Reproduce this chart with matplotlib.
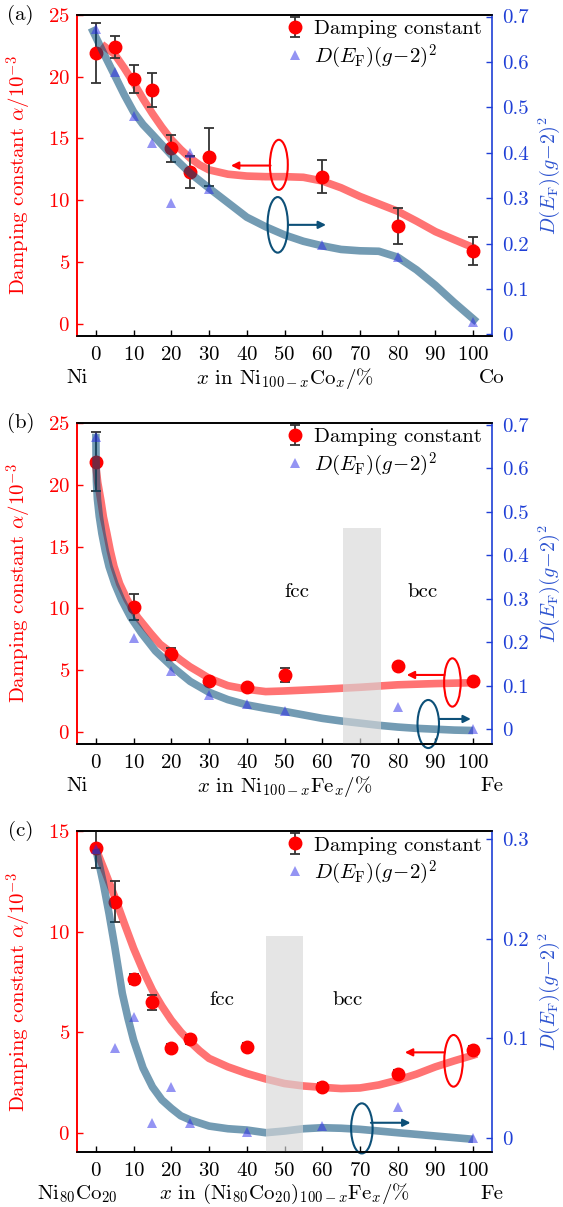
import matplotlib
matplotlib.use('Agg')
import matplotlib.pyplot as plt
from matplotlib.patches import Ellipse, Rectangle
from matplotlib.ticker import FuncFormatter

plt.rcParams.update({
    'font.family': 'serif',
    'font.serif': ['cmr10'],
    'mathtext.fontset': 'cm',
    'axes.unicode_minus': False,
    'axes.formatter.use_mathtext': True,
    'font.size': 15,
})

RED = '#ff0000'
BLUE = '#1f3fd6'
CURVE_BLUE = '#004a75'
DARK_BLUE = '#0d5078'

# ---- panel (a): Ni(100-x)Co(x)
a_x = [0, 5, 10, 15, 20, 25, 30, 60, 80, 100]
a_alpha = [21.9, 22.4, 19.8, 18.9, 14.2, 12.3, 13.5, 11.9, 7.9, 5.9]
a_err = [2.4, 0.9, 1.1, 1.4, 1.1, 1.3, 2.35, 1.35, 1.45, 1.15]
a_D = [0.672, 0.577, 0.48, 0.421, 0.29, 0.40, 0.32, 0.197, 0.17, 0.028]
a_fit_alpha_x = [1.6, 5, 7.5, 10, 12.5, 15, 17.5, 20, 22.5, 25, 27.5, 30, 35, 40, 45, 50, 55, 60,
                 65, 70, 75, 80, 85, 90, 95, 100.5]
a_fit_alpha_y = [22.6, 21.8, 20.7, 19.5, 18.2, 17.0, 15.9, 14.9, 14.1, 13.4, 12.85, 12.45, 12.1,
                 11.95, 11.9, 11.9, 11.85, 11.55, 11.0, 10.3, 9.7, 9.1, 8.3, 7.45, 6.8, 6.1]
a_fit_D_x = [-1.2, 2, 5, 7.5, 10, 12.5, 15, 20, 25, 30, 35, 40, 45, 50, 55, 60, 65, 70, 75, 80,
             85, 90, 95, 101]
a_fit_D_y = [0.675, 0.62, 0.57, 0.528, 0.49, 0.462, 0.44, 0.395, 0.355, 0.322, 0.29, 0.258, 0.237,
             0.219, 0.205, 0.195, 0.187, 0.184, 0.183, 0.17, 0.142, 0.108, 0.07, 0.027]

# ---- panel (b): Ni(100-x)Fe(x)
b_x = [0, 10, 20, 30, 40, 50, 80, 100]
b_alpha = [21.9, 10.1, 6.3, 4.1, 3.6, 4.6, 5.35, 4.1]
b_err = [2.4, 1.05, 0.45, 0.2, 0.2, 0.55, 0.2, 0.2]
b_D = [0.672, 0.21, 0.135, 0.079, 0.058, 0.043, 0.051, 0.0]
b_fit_alpha_x = [0, 0.5, 1.3, 2.0, 2.9, 3.8, 4.8, 6.3, 8.3, 11, 14.5, 17, 20, 22.5, 24.9, 27.5,
                 30, 35, 40, 45, 50, 60, 70, 80, 90, 100]
b_fit_alpha_y = [21.5, 20.2, 18.8, 17.4, 16.1, 14.7, 13.4, 12.0, 10.7, 9.3, 7.98, 7.1, 6.4, 5.8,
                 5.27, 4.8, 4.33, 3.73, 3.44, 3.25, 3.3, 3.44, 3.6, 3.8, 3.9, 3.97]
b_fit_D_x = [0, 0.05, 0.15, 0.4, 0.9, 1.6, 2.5, 3.5, 5, 6.8, 9.2, 12.1, 15.8, 20.2, 25, 30, 35,
             40, 45, 50, 55, 60, 65, 70, 75, 80, 85, 90, 95, 100]
b_fit_D_y = [0.68, 0.62, 0.57, 0.53, 0.49, 0.45, 0.41, 0.374, 0.335, 0.298, 0.258, 0.221, 0.18,
             0.144, 0.11, 0.085, 0.068, 0.056, 0.048, 0.041, 0.033, 0.025, 0.019, 0.014, 0.009,
             0.005, 0.002, 0.0, -0.002, -0.003]

# ---- panel (c): (Ni80Co20)(100-x)Fe(x)
c_x = [0, 5, 10, 15, 20, 25, 40, 60, 80, 100]
c_alpha = [14.15, 11.5, 7.67, 6.48, 4.24, 4.64, 4.27, 2.26, 2.92, 4.11]
c_err = [1.0, 1.0, 0.25, 0.36, 0.2, 0.2, 0.2, 0.2, 0.2, 0.2]
c_D = [0.29, 0.09, 0.121, 0.015, 0.0506, 0.0144, 0.0054, 0.0117, 0.0305, 0.0]
c_fit_alpha_x = [0, 2.5, 5, 7.5, 10, 12.5, 15, 17.5, 20, 22.5, 25, 27.5, 30, 35, 40, 45, 50, 55,
                 60, 65, 70, 75, 80, 85, 90, 95, 100, 101]
c_fit_alpha_y = [14.13, 12.95, 11.73, 10.43, 9.17, 8.07, 7.09, 6.3, 5.6, 5.02, 4.52, 4.08, 3.7,
                 3.28, 2.95, 2.68, 2.45, 2.33, 2.26, 2.2, 2.23, 2.38, 2.62, 2.92, 3.28, 3.58, 3.86,
                 3.92]
c_fit_D_x = [0, 2, 3.5, 5, 7, 8.5, 10, 12.5, 15, 17.5, 20, 22.5, 25, 30, 35, 40, 45, 50, 55, 60,
             65, 70, 80, 90, 100]
c_fit_D_y = [0.29, 0.255, 0.225, 0.192, 0.145, 0.12, 0.098, 0.07, 0.051, 0.038, 0.0295, 0.022,
             0.0178, 0.0117, 0.009, 0.0077, 0.005, 0.0067, 0.009, 0.01, 0.0095, 0.0084, 0.005,
             0.0017, -0.0016]

x_ticks = list(range(0, 101, 10))
d_label = r'$D(E_{\mathrm{F}})(g\!-\!2)^2$'


def fmt(v, pos):
    return '%g' % v


def draw_panel(rect, tag, xs, alpha, err, D, fa_x, fa_y, fd_x, fd_y,
               ylim, yticks, y2lim, y2ticks, left_name, mid_name, right_name,
               red_ell, red_arrow, blue_ell, blue_arrow, band=None, phases=None):
    ax = fig.add_axes(rect)
    ax2 = ax.twinx()

    ax.plot(fa_x, fa_y, color=RED, alpha=0.55, lw=5.5, solid_capstyle='butt',
            solid_joinstyle='round', zorder=1)
    ax.errorbar(xs, alpha, yerr=err, fmt='o', color=RED, ms=9, ecolor='#333333',
                elinewidth=1.3, capsize=3.6, capthick=1.3, zorder=3, label='Damping constant')

    ax2.plot(fd_x, fd_y, color=CURVE_BLUE, alpha=0.55, lw=5.5, solid_capstyle='butt',
             solid_joinstyle='round', zorder=1)
    if band is not None:
        ax2.add_patch(Rectangle((band[0], ylim[0]), band[1] - band[0], band[2] - ylim[0],
                                transform=ax.transData, color='#d8d8d8', alpha=0.65,
                                lw=0, zorder=2))
    ax2.plot(xs, D, '^', color='#2a2ae8', alpha=0.5, ms=7.5, mew=0, zorder=3,
             label=d_label)

    # guide annotations
    ax.add_patch(Ellipse(red_ell[:2], red_ell[2], red_ell[3], fill=False, ec=RED, lw=1.5,
                         zorder=4))
    ax.annotate('', xy=red_arrow[1], xytext=red_arrow[0],
                arrowprops=dict(arrowstyle='-|>', color=RED, lw=1.5, mutation_scale=11,
                                shrinkA=0, shrinkB=0))
    ax.add_patch(Ellipse(blue_ell[:2], blue_ell[2], blue_ell[3], fill=False, ec=DARK_BLUE,
                         lw=1.5, zorder=4, clip_on=False))
    ax.annotate('', xy=blue_arrow[1], xytext=blue_arrow[0],
                arrowprops=dict(arrowstyle='-|>', color=DARK_BLUE, lw=1.5, mutation_scale=11,
                                shrinkA=0, shrinkB=0))
    if phases is not None:
        for px, py, name in phases:
            ax.text(px, py, name, ha='center', va='center', fontsize=15)

    ax.set_xlim(-5, 105)
    ax.set_ylim(*ylim)
    ax2.set_ylim(*y2lim)
    ax.set_xticks(x_ticks)
    ax.set_yticks(yticks)
    ax2.set_yticks(y2ticks)
    ax2.yaxis.set_major_formatter(FuncFormatter(fmt))

    ax.tick_params(axis='x', direction='in', length=4, width=1, pad=7, colors='black')
    ax.tick_params(axis='y', direction='in', length=4, width=1, pad=5, colors=RED)
    ax2.tick_params(axis='y', direction='in', length=4, width=1, pad=7, colors=BLUE)

    for a in (ax, ax2):
        a.spines['left'].set_color(RED)
        a.spines['right'].set_color(BLUE)
        for s in a.spines.values():
            s.set_linewidth(1.2)
    ax.spines['right'].set_visible(False)

    ax.set_ylabel(r'Damping constant $\alpha/10^{-3}$', color=RED, fontsize=15)
    ax.yaxis.set_label_coords(-0.104, 0.5)
    ax2.set_ylabel(d_label, color='#2f55d0', fontsize=14.5)
    ax2.yaxis.set_label_coords(1.108, 0.5)

    ax.text(0.0, -0.131, left_name, transform=ax.transAxes, ha='center', va='center')
    ax.text(0.5, -0.131, mid_name, transform=ax.transAxes, ha='center', va='center')
    ax.text(1.0, -0.131, right_name, transform=ax.transAxes, ha='center', va='center')

    h1, l1 = ax.get_legend_handles_labels()
    h2, l2 = ax2.get_legend_handles_labels()
    ax2.legend(h1 + h2, l1 + l2, loc='upper left', bbox_to_anchor=(0.5, 0.985),
               frameon=False, handlelength=1.0, handletextpad=0.4, borderpad=0,
               borderaxespad=0, labelspacing=0.2, fontsize=15)

    top = rect[1] + rect[3]
    fig.text(20.5 / 563, top, tag, ha='center', va='center', fontsize=15)
    return ax, ax2


fig = plt.figure(figsize=(5.63, 12.07), dpi=100)
L, W, H = 0.1368, 0.7371, 0.2661

draw_panel([L, 0.7216, W, H], '(a)', a_x, a_alpha, a_err, a_D,
           a_fit_alpha_x, a_fit_alpha_y, a_fit_D_x, a_fit_D_y,
           (-1, 25), [0, 5, 10, 15, 20, 25], (-0.0037, 0.7037), [0, 0.1, 0.2, 0.3, 0.4, 0.5, 0.6, 0.7],
           'Ni', r'$x$ in Ni$_{100-x}$Co$_{x}$/%', 'Co',
           (48.5, 12.86, 4.75, 4.05), ((46.3, 12.8), (35.8, 12.8)),
           (48.2, 8.0, 5.4, 4.5), ((51.0, 8.0), (61.0, 8.0)))

draw_panel([L, 0.3836, W, H], '(b)', b_x, b_alpha, b_err, b_D,
           b_fit_alpha_x, b_fit_alpha_y, b_fit_D_x, b_fit_D_y,
           (-1, 25.05), [0, 5, 10, 15, 20, 25], (-0.034, 0.705), [0, 0.1, 0.2, 0.3, 0.4, 0.5, 0.6, 0.7],
           'Ni', r'$x$ in Ni$_{100-x}$Fe$_{x}$/%', 'Fe',
           (94.5, 3.99, 4.4, 3.92), ((92.4, 4.6), (82.4, 4.6)),
           (88.1, 0.62, 5.7, 3.9), ((91.0, 1.03), (99.4, 1.03)),
           band=(65.6, 75.6, 16.5), phases=[(53.4, 11.3, 'fcc'), (86.7, 11.3, 'bcc')])

draw_panel([L, 0.0453, W, H], '(c)', c_x, c_alpha, c_err, c_D,
           c_fit_alpha_x, c_fit_alpha_y, c_fit_D_x, c_fit_D_y,
           (-0.97, 15), [0, 5, 10, 15], (-0.0147, 0.308), [0, 0.1, 0.2, 0.3],
           r'Ni$_{80}$Co$_{20}$', r'$x$ in (Ni$_{80}$Co$_{20}$)$_{100-x}$Fe$_{x}$/%', 'Fe',
           (94.8, 3.58, 4.9, 2.57), ((92.4, 4.0), (81.9, 4.0)),
           (70.5, 0.22, 5.7, 2.49), ((72.9, 0.5), (83.4, 0.5)),
           band=(45, 55, 9.78), phases=[(33.5, 6.6, 'fcc'), (66.7, 6.6, 'bcc')])

fig.savefig('out.png', dpi=100)
